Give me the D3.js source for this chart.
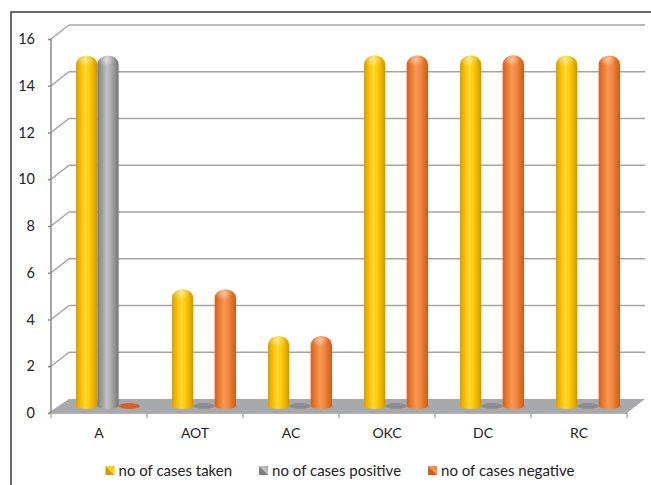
<!DOCTYPE html>
<html>
<head>
<meta charset="utf-8">
<script src="https://cdn.jsdelivr.net/npm/d3@7"></script>
<style>
  html, body { margin: 0; padding: 0; background: #fff; }
  svg { display: block; font-family: Lato, "Open Sans", sans-serif; }
</style>
</head>
<body>
<svg id="chart" width="651" height="485"></svg>
<script>
// Data
const categories = ["A", "AOT", "AC", "OKC", "DC", "RC"];
const seriesNames = ["no of cases taken", "no of cases positive", "no of cases negative"];
const casesTaken    = [15, 5, 3, 15, 15, 15];
const casesPositive = [15, 0, 0, 0, 0, 0];
const casesNegative = [0, 5, 3, 15, 15, 15];
const yTicks = [0, 2, 4, 6, 8, 10, 12, 14, 16];

const seriesValues = [casesTaken, casesPositive, casesNegative];

// Palette per series: [edge-dark, mid, bright, edge-right, zero-disc]
const palette = [
  ["#dc9f00", "#f7c400", "#ffd83a", "#d29500", "#d59a00"],
  ["#7e7e7e", "#a2a2a2", "#c4c4c4", "#787878", "#8b8d90"],
  ["#d4601c", "#ef7f32", "#f79a5a", "#cc5a1a", "#d8611f"]
];

const svg = d3.select("#chart");
const defs = svg.append("defs");

// 3D layout: front plane, depth offset of the back wall
const depth = { dx: 18, dy: -14 };
const mid = { dx: depth.dx / 2, dy: depth.dy / 2 };

const x = d3.scaleBand().domain(categories).range([51, 627]);
const inner = d3.scaleBand().domain(d3.range(seriesNames.length))
  .range([0, x.bandwidth()]).paddingInner(0).paddingOuter(0.75);
const y = d3.scaleLinear().domain([0, 16]).range([413, 39]);

const textColor = "#222";

// Frame around the chart area
svg.append("path")
  .attr("d", "M11,490 L11,12 L660,12")
  .attr("fill", "none").attr("stroke", "#3a3a3a").attr("stroke-width", 1.5);

// Gradients for cylinders
palette.forEach((p, i) => {
  const g = defs.append("linearGradient").attr("id", "cyl" + i)
    .attr("x1", "0").attr("x2", "1").attr("y1", "0").attr("y2", "0");
  g.append("stop").attr("offset", "0%").attr("stop-color", p[0]);
  g.append("stop").attr("offset", "25%").attr("stop-color", p[1]);
  g.append("stop").attr("offset", "45%").attr("stop-color", p[2]);
  g.append("stop").attr("offset", "70%").attr("stop-color", p[1]);
  g.append("stop").attr("offset", "100%").attr("stop-color", p[3]);
  const r = defs.append("radialGradient").attr("id", "cap" + i)
    .attr("cx", "0.45").attr("cy", "0.35").attr("r", "0.5");
  r.append("stop").attr("offset", "0%").attr("stop-color", "#fff").attr("stop-opacity", 0.45);
  r.append("stop").attr("offset", "100%").attr("stop-color", "#fff").attr("stop-opacity", 0);
  const m = defs.append("linearGradient").attr("id", "mk" + i)
    .attr("x1", "0").attr("x2", "1").attr("y1", "1").attr("y2", "0");
  m.append("stop").attr("offset", "0%").attr("stop-color", p[3]);
  m.append("stop").attr("offset", "45%").attr("stop-color", p[0]);
  m.append("stop").attr("offset", "55%").attr("stop-color", p[2]);
  m.append("stop").attr("offset", "100%").attr("stop-color", p[1]);
});

const gridColor = "#a3a3a3";

// Back-wall gridlines with diagonal connectors to the front axis
const grid = svg.append("g");
yTicks.filter(t => t > 0).forEach(t => {
  const yf = y(t), yb = y(t) + depth.dy;
  grid.append("line")
    .attr("x1", x.range()[0]).attr("y1", yf)
    .attr("x2", x.range()[0] + depth.dx).attr("y2", yb)
    .attr("stroke", gridColor).attr("stroke-width", 1.5);
  grid.append("line")
    .attr("x1", x.range()[0] + depth.dx).attr("y1", yb)
    .attr("x2", x.range()[1] + depth.dx).attr("y2", yb)
    .attr("stroke", gridColor).attr("stroke-width", 1.5);
});

// Floor
const x0 = x.range()[0], x1 = x.range()[1], yFloor = y(0);
svg.append("path")
  .attr("d", `M${x0 - 3},${yFloor} L${x0 + depth.dx},${yFloor + depth.dy} L${x1 + depth.dx},${yFloor + depth.dy} L${x1},${yFloor} Z`)
  .attr("fill", "#a7a9ac");

// Y axis
const yAxis = svg.append("g")
  .attr("transform", `translate(${x0},0)`)
  .call(d3.axisLeft(y).tickValues(yTicks).tickSize(3).tickPadding(13).tickFormat(d3.format("d")));
yAxis.select(".domain").attr("stroke", "#8a8a8a").attr("stroke-width", 1.5)
  .attr("d", `M0,${y(16)}V${y(0)}`);
yAxis.selectAll(".tick line").attr("stroke", "#8a8a8a").attr("stroke-width", 1.5);
yAxis.selectAll(".tick text").attr("fill", textColor).style("font-size", "14.5px")
  .style("font-family", "Lato, sans-serif");

// X axis: front edge, boundary ticks and centered labels
const xAxis = svg.append("g")
  .attr("transform", `translate(0,${yFloor})`)
  .call(d3.axisBottom(x).tickSize(0).tickPadding(15));
xAxis.select(".domain").attr("stroke", "#b5b5b5").attr("stroke-width", 1.2);
xAxis.selectAll(".tick text").attr("fill", textColor).style("font-size", "14px")
  .style("font-family", "Lato, sans-serif");
const bounds = categories.map(c => x(c)).concat([x1]);
xAxis.selectAll(".bound").data(bounds).join("line").attr("class", "bound")
  .attr("x1", d => d).attr("x2", d => d).attr("y1", 0).attr("y2", 5)
  .attr("stroke", "#9a9a9a").attr("stroke-width", 1.2);

// Cylinders, placed at mid-depth
const bars = svg.append("g");
const capRy = 9, baseRy = 3;
categories.forEach((c, ci) => {
  seriesValues.forEach((vals, si) => {
    const v = vals[ci];
    const left = x(c) + inner(si) + mid.dx;
    const w = inner.bandwidth();
    const right = left + w;
    const bottom = y(0) + mid.dy;
    const rx = w / 2;
    if (v === 0) {
      bars.append("ellipse")
        .attr("cx", left + rx).attr("cy", bottom)
        .attr("rx", rx).attr("ry", baseRy)
        .attr("fill", palette[si][4]);
      return;
    }
    const top = y(v) + mid.dy;
    const d = `M${left},${bottom} L${left},${top + capRy} ` +
      `A${rx},${capRy} 0 0 1 ${right},${top + capRy} L${right},${bottom} ` +
      `A${rx},${baseRy} 0 0 1 ${left},${bottom} Z`;
    bars.append("path").attr("d", d).attr("fill", `url(#cyl${si})`);
    bars.append("ellipse")
      .attr("cx", left + rx * 0.9).attr("cy", top + capRy * 0.7)
      .attr("rx", rx * 0.8).attr("ry", capRy * 0.75)
      .attr("fill", `url(#cap${si})`);
  });
});

// Legend
const legend = svg.append("g").attr("transform", "translate(0,476)");
const items = legend.selectAll(".item").data(seriesNames).join("g").attr("class", "item");
items.append("rect")
  .attr("x", 0).attr("y", -10).attr("width", 9).attr("height", 9)
  .attr("fill", (d, i) => `url(#mk${i})`);
items.append("text")
  .attr("x", 13).attr("y", 0)
  .attr("fill", textColor).style("font-size", "15px")
  .text(d => d);
const gap = 27;
let cursor = 0;
const widths = [];
items.each(function () {
  const tw = d3.select(this).select("text").node().getComputedTextLength();
  widths.push(13 + tw);
});
const total = d3.sum(widths) + gap * (widths.length - 1);
cursor = 340 - total / 2;
items.attr("transform", (d, i) => {
  const tx = cursor;
  cursor += widths[i] + gap;
  return `translate(${tx},0)`;
});
</script>
</body>
</html>
